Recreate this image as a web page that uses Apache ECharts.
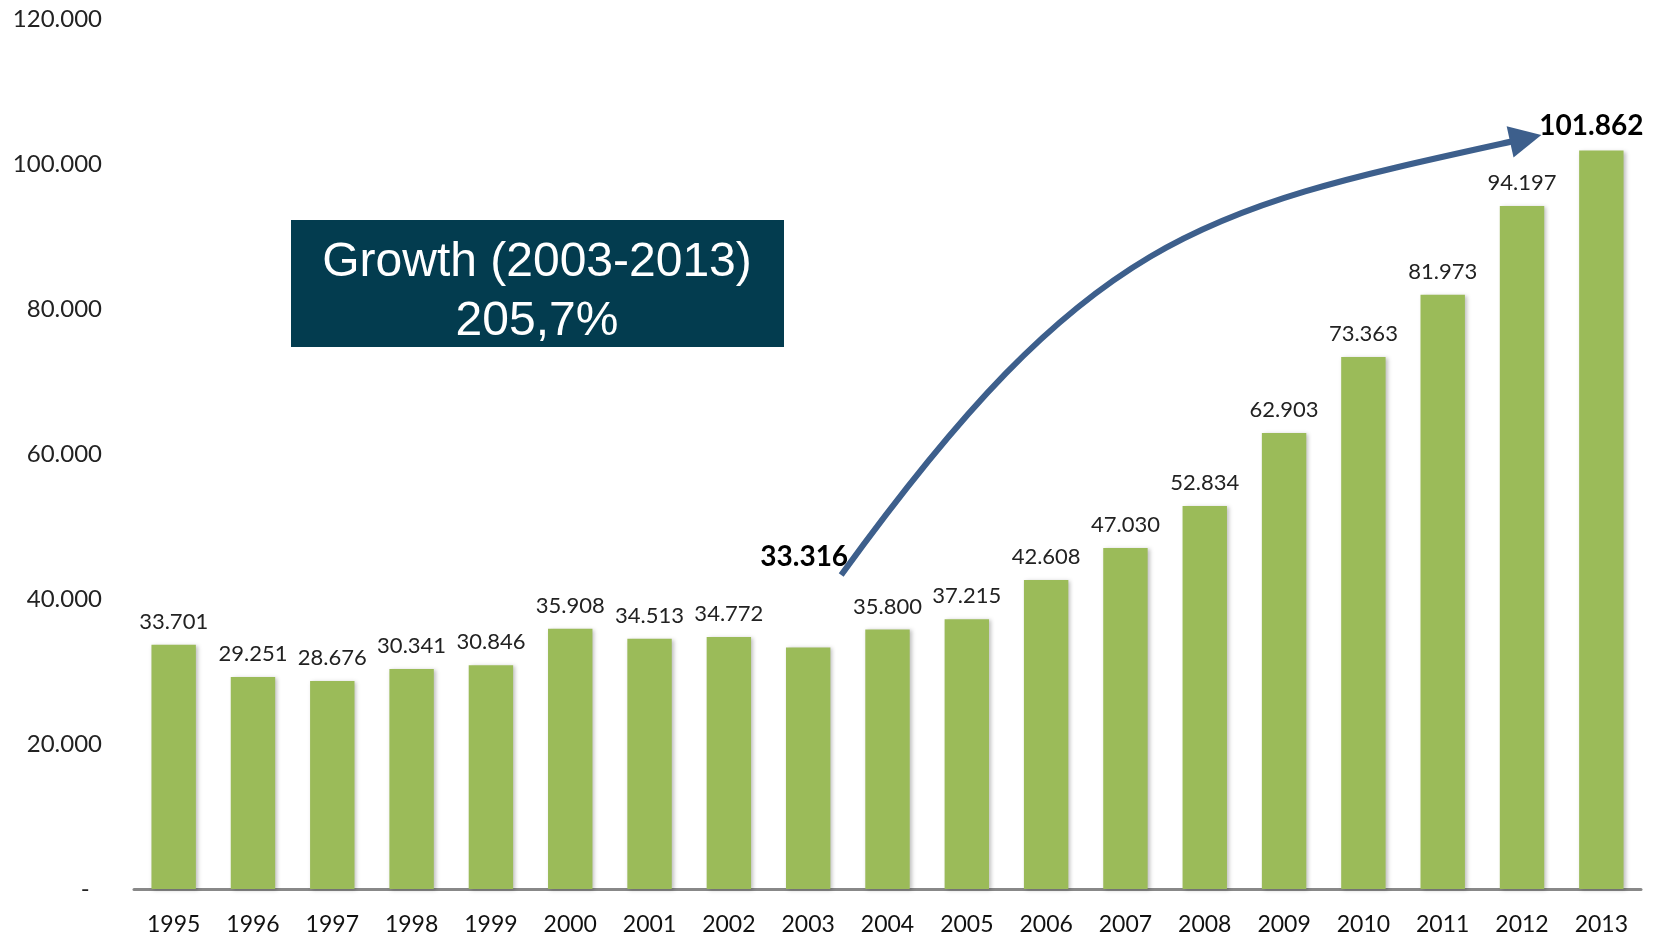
<!DOCTYPE html>
<html>
<head>
<meta charset="utf-8">
<script src="https://cdn.jsdelivr.net/npm/echarts@6/dist/echarts.min.js"></script>
<style>
html,body{margin:0;padding:0;background:#fff;}
#chart{width:1660px;height:938px;}
</style>
</head>
<body>
<div id="chart"></div>
<script>
const years = ['1995','1996','1997','1998','1999','2000','2001','2002','2003','2004','2005','2006','2007','2008','2009','2010','2011','2012','2013'];
const values = [33701,29251,28676,30341,30846,35908,34513,34772,33316,35800,37215,42608,47030,52834,62903,73363,81973,94197,101862];
const yTicks = [0,20000,40000,60000,80000,100000,120000];
const boxLines = ['Growth (2003-2013)','205,7%'];
const arrowFrom = ['2003', 43300];
const arrowTo = ['2013', 104000];

function fmt(v){
  if (v === 0) return '-';
  return String(v).replace(/\B(?=(\d{3})+(?!\d))/g, '.');
}

const chart = echarts.init(document.getElementById('chart'));
const highlight = {'2003': {offset:[-4,0], distance:76}, '2013': {offset:[-10,0], distance:11}};

const data = values.map((v,i)=>{
  const y = years[i];
  if (highlight[y]) {
    return {value:v, label:{fontWeight:'bold', fontSize:28, color:'#000', distance:highlight[y].distance, offset:highlight[y].offset}};
  }
  return v;
});

chart.setOption({
  animation:false,
  grid:{left:134,right:19,top:19,bottom:49},
  xAxis:{
    type:'category', data:years,
    axisLine:{lineStyle:{color:'#888',width:3}},
    axisTick:{show:false},
    axisLabel:{fontFamily:'Lato', fontSize:23, color:'#111', margin:24}
  },
  yAxis:{
    type:'value', min:0, max:120000, interval:20000,
    splitLine:{show:false},
    axisLine:{show:false}, axisTick:{show:false},
    axisLabel:{fontFamily:'Lato', fontSize:24, color:'#222', margin:32,
      formatter:v=> v===0 ? '-  ' : fmt(v)}
  },
  series:[{
    type:'bar', data:data, barCategoryGap:'44%',
    itemStyle:{color:'#9BBB59', shadowColor:'rgba(0,0,0,0.25)', shadowBlur:4, shadowOffsetX:2, shadowOffsetY:1},
    label:{show:true, position:'top', distance:12, fontFamily:'Lato', fontSize:22, color:'#222', formatter:p=>fmt(p.value)}
  }],
  graphic:[{
    type:'group', left:291, top:220,
    children:[
      {type:'rect', shape:{x:0,y:0,width:493,height:127}, style:{fill:'#033C4F'}},
      {type:'text', x:246, y:43, style:{text:boxLines[0], fill:'#fff', font:'48px "Liberation Sans", Arial', align:'center', verticalAlign:'middle'}},
      {type:'text', x:246, y:102, style:{text:boxLines[1], fill:'#fff', font:'48px "Liberation Sans", Arial', align:'center', verticalAlign:'middle'}}
    ]
  }]
});

// arrow anchored to data coordinates
const p0 = chart.convertToPixel({gridIndex:0}, arrowFrom);
const pEndBar = chart.convertToPixel({gridIndex:0}, arrowTo);
p0[0] += 33;
const p3 = [pEndBar[0]-60, pEndBar[1]];
const a = 250, b = 340;
const d2 = [1, -0.22];
const n2 = Math.hypot(d2[0],d2[1]);
const p1 = [p0[0] + a, p0[1] - 1.38*a];
const p2 = [p3[0] - b, p3[1] + 0.22*b];
const ux = d2[0]/n2, uy = d2[1]/n2;
const headLen = 32, headW = 16;
const base = [p3[0]-ux*headLen, p3[1]-uy*headLen];
const px = -uy, py = ux;
chart.setOption({
  graphic:[
    {id:'arrowLine', type:'bezierCurve', shape:{x1:p0[0],y1:p0[1],cpx1:p1[0],cpy1:p1[1],cpx2:p2[0],cpy2:p2[1],x2:base[0]+ux*4,y2:base[1]+uy*4}, style:{stroke:'#3D5F8C', lineWidth:6, fill:null}},
    {id:'arrowHead', type:'polygon', shape:{points:[[p3[0],p3[1]],[base[0]+px*headW, base[1]+py*headW],[base[0]-px*headW, base[1]-py*headW]]}, style:{fill:'#3D5F8C'}}
  ]
});
</script>
</body>
</html>
